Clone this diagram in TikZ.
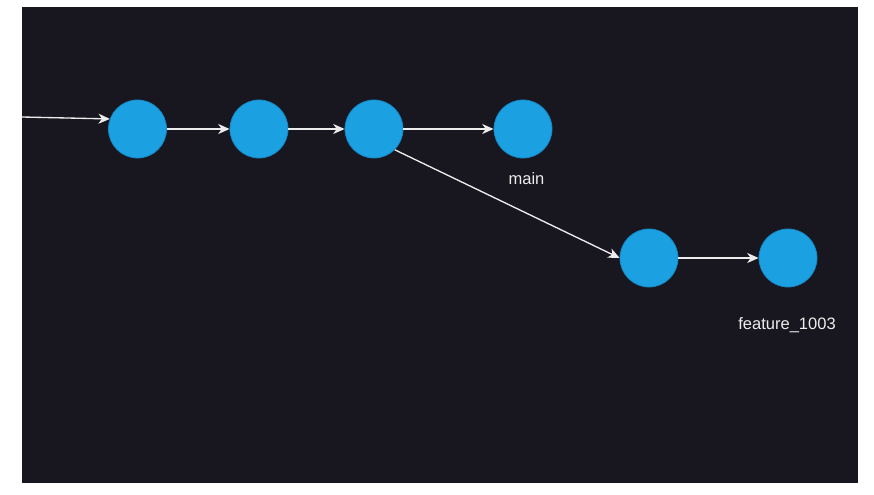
\documentclass[tikz,border=0pt]{standalone}
\usepackage{fontspec}
\setmainfont{Liberation Sans}
\usepackage{tikz}
\usetikzlibrary{arrows.meta}
\definecolor{fondo}{RGB}{24,23,31}
\definecolor{azul}{RGB}{27,161,226}
\definecolor{borde}{RGB}{22,135,196}
\definecolor{linea}{RGB}{236,236,236}
\tikzset{
  commit/.style={circle, fill=azul, draw=borde, line width=0.6pt, minimum size=43.5pt, inner sep=0pt},
  flecha/.style={draw=linea, line width=1pt, -{Stealth[length=8.5pt,width=7.5pt,inset=2.5pt]}},
  rama/.style={text=linea, font=\fontsize{12.4}{14}\selectfont}
}
\begin{document}
\begin{tikzpicture}[x=0.75pt,y=-0.75pt]
  % Fondo
  \useasboundingbox (0,0) rectangle (874,495);
  \fill[fondo] (22,7) rectangle (858,483);

  % Commits
  \foreach \n/\x/\y in {1/137.5/129, 2/259/129, 3/374/129, 4/523/129, 5/649/258, 6/788/258}
    \node[commit] (c\n) at (\x,\y) {};

  % Flechas entre commits
  \coordinate (inicio) at (22,117);
  \draw[flecha] (inicio) -- (c1.160);
  \foreach \a/\b in {1/2, 2/3, 3/4, 5/6}
    \draw[flecha] (c\a) -- (c\b);
  \draw[flecha] (c3.south east) -- (c5.west);

  % Etiquetas de ramas
  \node[rama] (main) at (526.5,179) {main};
  \node[rama] (feature) at (787,325) {feature\_1003};
\end{tikzpicture}
\end{document}
